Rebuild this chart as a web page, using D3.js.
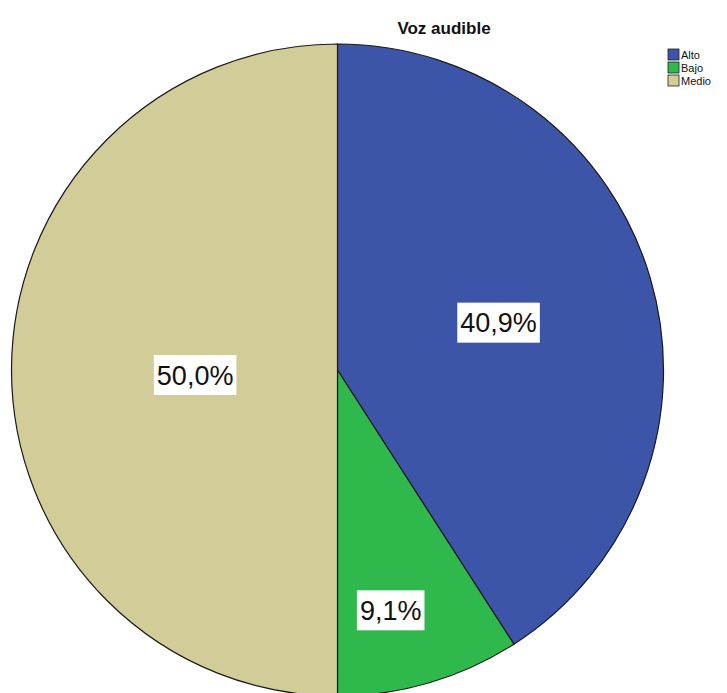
<!DOCTYPE html>
<html><head><meta charset="utf-8">
<script src="https://cdn.jsdelivr.net/npm/d3@7"></script>
<style>body{margin:0;background:#fff;}svg{display:block;}</style>
</head><body>
<script>
const categories = ["Alto", "Bajo", "Medio"];
const values = [40.9, 9.1, 50.0];
const labels = ["40,9%", "9,1%", "50,0%"];
const colors = ["#3d55a8", "#2fb84b", "#d2cd98"];
const labelRadiusFactor = [0.515, 0.755, 0.437];
const labelAngleShiftDeg = [0, 3.9, -2];

const W = 727, H = 693;
const cx = 337.5, cy = 370, R = 326;

const svg = d3.select("body").append("svg").attr("width", W).attr("height", H);

const data = categories.map((c, i) => ({ cat: c, value: values[i], label: labels[i], color: colors[i], lf: labelRadiusFactor[i], sh: labelAngleShiftDeg[i] }));
const pie = d3.pie().value(d => d.value).sort(null);
const arcs = pie(data);
const arc = d3.arc().innerRadius(0).outerRadius(R);

const g = svg.append("g").attr("transform", `translate(${cx},${cy})`);
g.selectAll("path").data(arcs).join("path")
  .attr("d", arc)
  .attr("fill", d => d.data.color)
  .attr("stroke", "#1a1a1a")
  .attr("stroke-width", 1.2);

const lbl = g.selectAll("g.lbl").data(arcs).join("g").attr("class", "lbl")
  .attr("transform", d => {
    const a = (d.startAngle + d.endAngle) / 2 + d.data.sh * Math.PI / 180;
    const r = R * d.data.lf;
    return `translate(${r * Math.sin(a)},${-r * Math.cos(a)})`;
  });
const fs = 27;
lbl.each(function(d) {
  const gg = d3.select(this);
  const t = gg.append("text")
    .attr("text-anchor", "middle").attr("dy", "0.36em")
    .attr("font-family", "Arial, 'Liberation Sans', sans-serif")
    .attr("font-size", fs).attr("fill", "#111")
    .text(d.data.label);
  const b = t.node().getBBox();
  gg.insert("rect", "text")
    .attr("x", b.x - 3).attr("y", -20)
    .attr("width", b.width + 6).attr("height", 40)
    .attr("fill", "#fff");
});

svg.append("text")
  .attr("x", 444).attr("y", 34)
  .attr("text-anchor", "middle")
  .attr("font-family", "Arial, 'Liberation Sans', sans-serif")
  .attr("font-weight", "bold").attr("font-size", 17).attr("fill", "#111")
  .text("Voz audible");

const legend = svg.append("g").attr("transform", "translate(668,49)");
const li = legend.selectAll("g").data(data).join("g")
  .attr("transform", (d, i) => `translate(0,${i * 13})`);
li.append("rect").attr("width", 11).attr("height", 11)
  .attr("fill", d => d.color).attr("stroke", "#222").attr("stroke-width", 0.8);
li.append("text").attr("x", 13).attr("y", 10)
  .attr("font-family", "Arial, 'Liberation Sans', sans-serif")
  .attr("font-size", 11).attr("fill", "#111")
  .text(d => d.cat);
</script>
</body></html>
